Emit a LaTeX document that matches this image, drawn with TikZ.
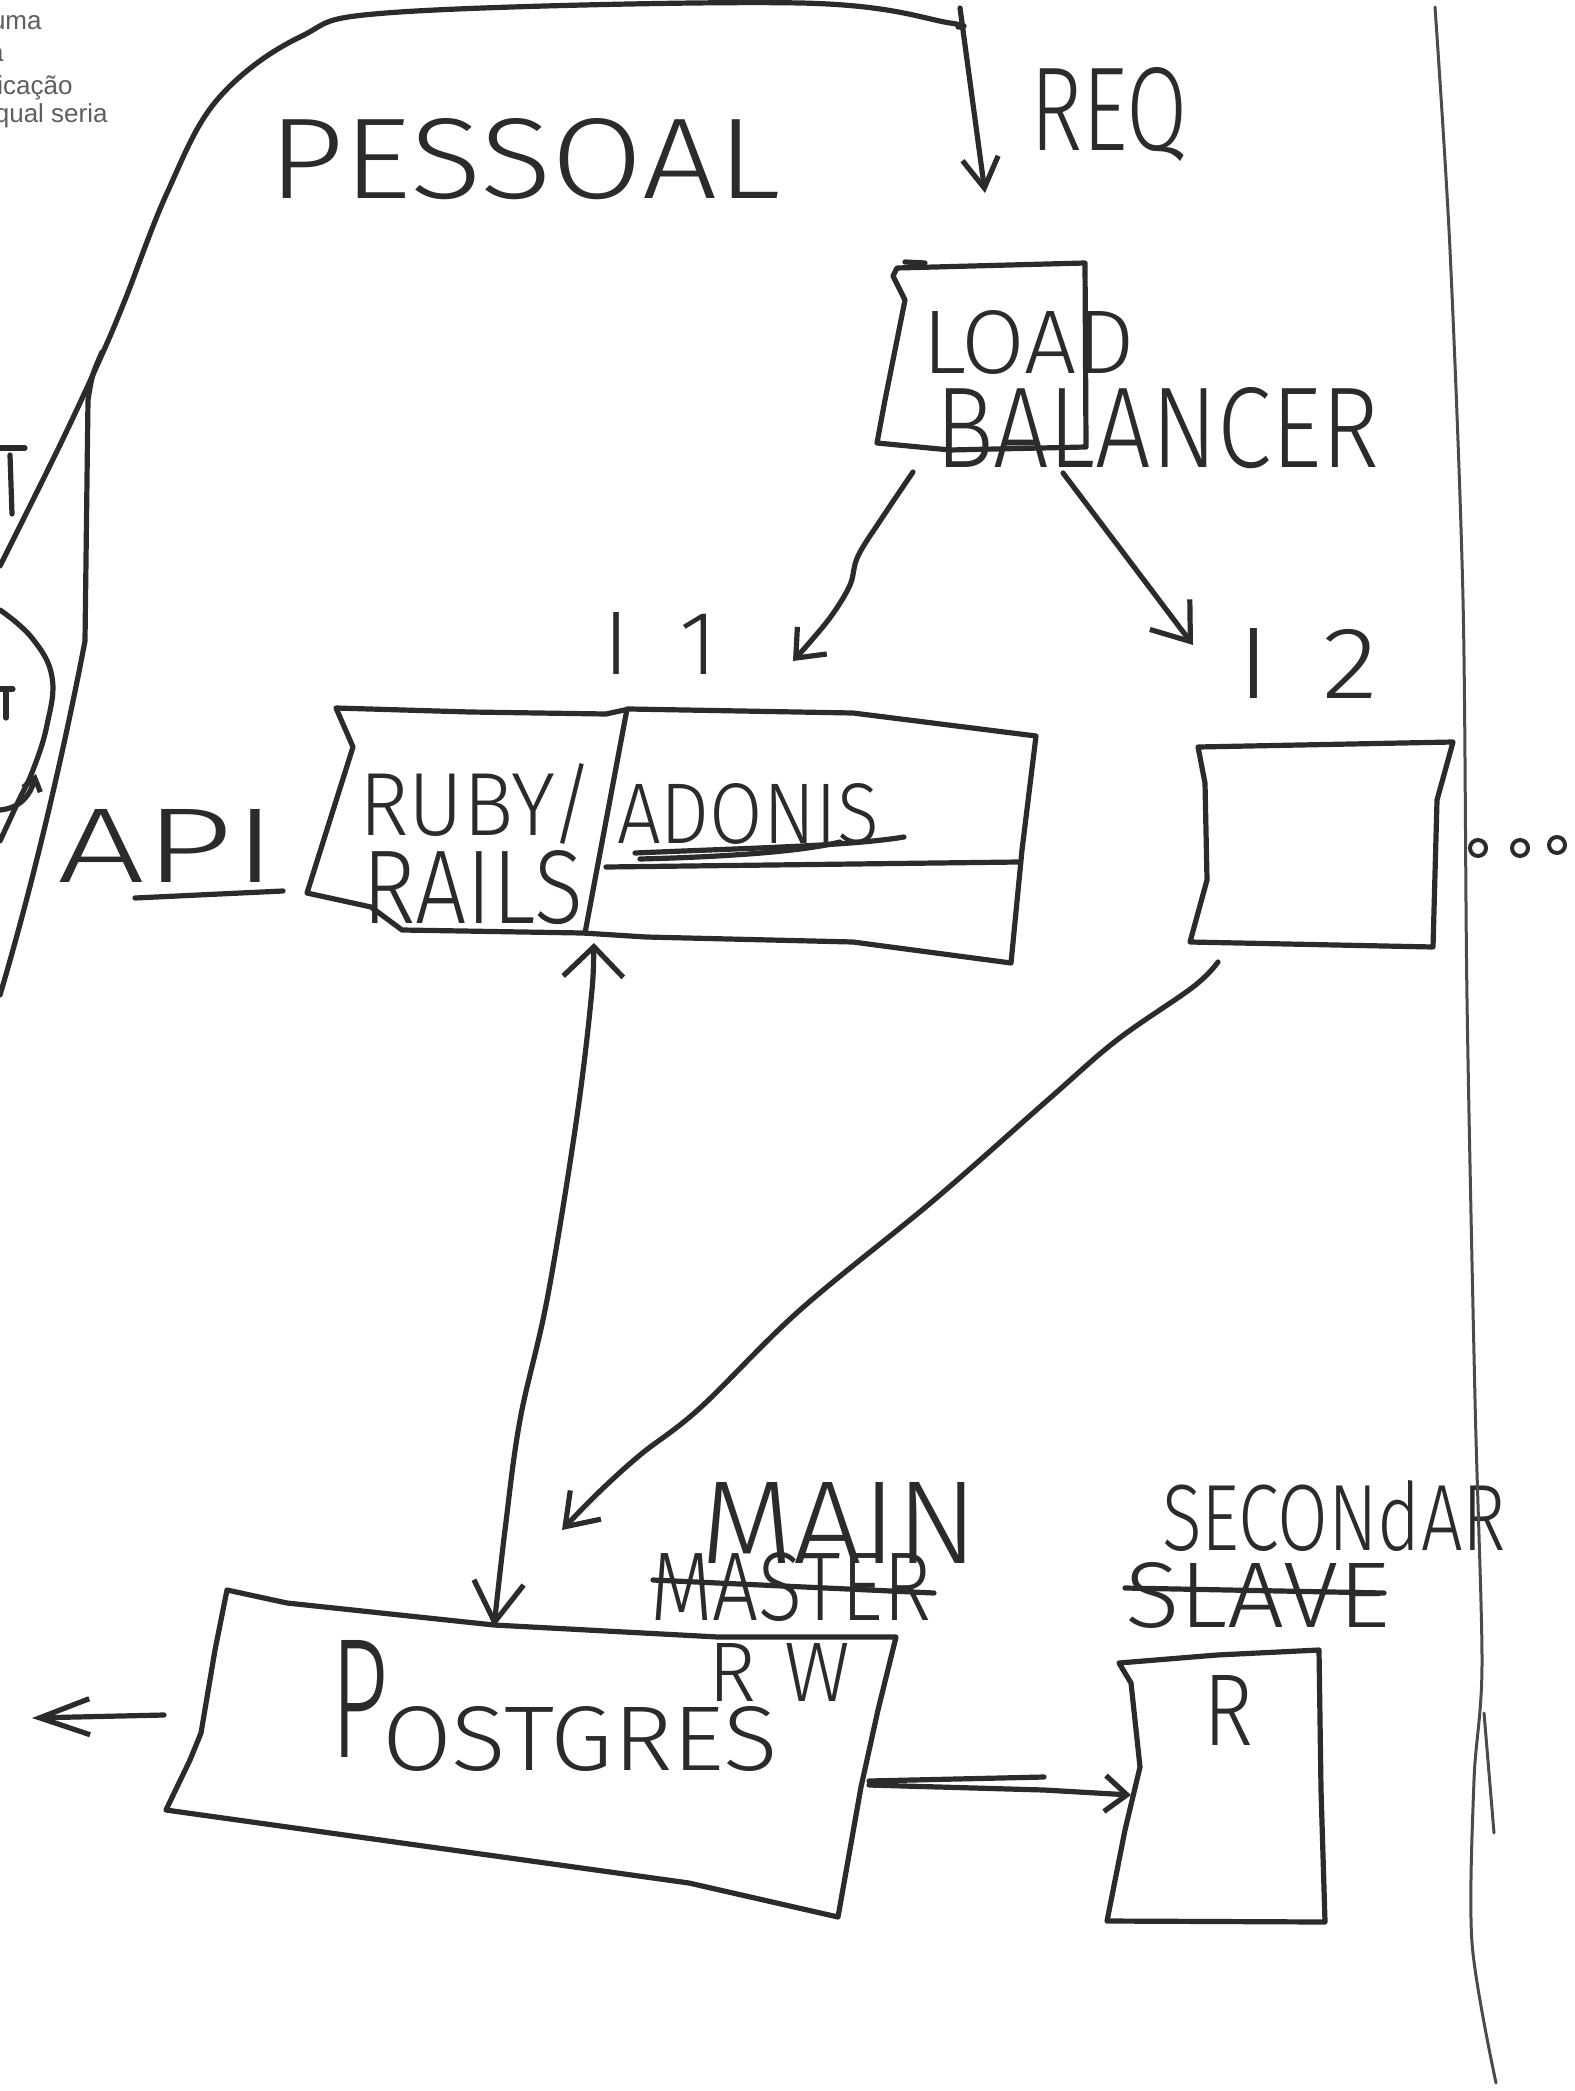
\documentclass[tikz,border=0pt]{standalone}
\usepackage{fontspec}
\usepackage{graphicx}
\setmainfont{Liberation Sans}
\IfFontExistsTF{Fira Sans Light}{\newfontfamily\handfont{Fira Sans Light}}{\newfontfamily\handfont{Liberation Sans}}
\usetikzlibrary{arrows.meta}
\newdimen\pxu \pxu=0.5pt
\newcommand{\fitxt}[3]{\resizebox{#1\pxu}{#2\pxu}{\handfont #3}}
\definecolor{inkc}{HTML}{2B2B2B}
\definecolor{notec}{HTML}{5E5E5E}
\tikzset{
  ink/.style={draw=inkc, line width=2.6pt, line cap=round, line join=round},
  thinink/.style={draw=inkc!85, line width=1.5pt, line cap=round},
  txt/.style={anchor=north west, inner sep=0pt, outer sep=0pt, text=inkc},
  note/.style={anchor=base east, inner sep=0pt, text=notec, font=\fontsize{13}{15}\selectfont},
  barb/.style n args={2}{-{Straight Barb[length=#1pt,width=#2pt]}}
}
\begin{document}
\begin{tikzpicture}[x=0.5pt,y=-0.5pt]
\useasboundingbox (0,0) rectangle (1574,2091);
\clip (0,0) rectangle (1574,2091);

% ---- cut-off note text (top left) ----
\node[note] (n1) at (42,30) {uma};
\node[note] (n2) at (4,62) {a};
\node[note] (n3) at (73,95) {icação};
\node[note] (n4) at (108,123) {qual seria};

% ---- partial drawings at the left edge ----
\draw[ink] (102,352) .. controls (92,375) .. (88,400) -- (85,641) .. controls (70,720) and (40,860) .. (0,995);
\draw[ink] (0,448) -- (25,448);
\draw[ink] (10,455) -- (12,514);
\draw[ink] plot[smooth, tension=0.7] coordinates {(0,610) (32,638) (52,677) (47,725) (33,770) (18,802) (0,841)};
\draw[ink] (0,689) -- (13,689);
\draw[ink] (6,690) -- (6,718);
\coordinate (pa1) at (0,810);
\coordinate (pa2) at (36,774);
\draw[ink, barb={6}{9}] (pa1) .. controls (20,808) and (30,796) .. (pa2);

% ---- big curve + REQ arrow ----
\coordinate (reqA) at (960,8);
\coordinate (reqB) at (985,193);
\draw[ink] plot[smooth, tension=0.6] coordinates {(0,566) (60,445) (100,359) (125,300) (167,193) (217,100) (300,37) (400,12) (800,3) (950,23) (958,27)};
\draw[ink, barb={15}{18}] (reqA) -- (reqB);
\node[txt] (req) at (1030,67) {\fitxt{158}{83}{REQ}};
\node[txt] (pessoal) at (268,118) {\fitxt{512}{80}{PESSOAL}};

% ---- load balancer ----
\draw[ink] (897,268) -- (1085,263) -- (1086,447) -- (950,450) -- (877,443) -- (885,400) -- (905,300) -- (893,276) -- cycle;
\draw[ink] (905,262) -- (925,263);
\node[txt] (load) at (922,310) {\fitxt{213}{63}{LOAD}};
\node[txt] (balancer) at (935,387) {\fitxt{445}{80}{BALANCER}};
\coordinate (lbL) at (913,472);
\coordinate (lbR) at (1063,473);
\coordinate (i1in) at (793,661);
\coordinate (i2in) at (1193,645);
\draw[ink, barb={12}{20}] plot[smooth, tension=0.6] coordinates {(lbL) (882,518) (858,556) (850,585) (832,615) (810,642) (i1in)};
\draw[ink, barb={17}{25}] (lbR) -- (i2in);

% ---- instance 1 ----
\node[txt] (i1) at (603,612) {\fitxt{115}{62}{I\hspace{0.55em}1}};
\draw[ink] (336,708) -- (470,712) -- (606,714) -- (629,709) -- (853,713) -- (1036,736) -- (1022,850) -- (1011,963) -- (853,942) -- (646,937) -- (583,933) -- (402,930) -- (371,907) -- (307,893) -- (353,747) -- cycle;
\draw[ink] (627,709) -- (585,933);
\draw[ink] (606,867) -- (1019,862);
\node[txt] (ruby) at (359,763) {\fitxt{235}{72}{RUBY/}};
\node[txt] (rails) at (362,850) {\fitxt{221}{73}{RAILS}};
\node[txt] (adonis) at (617,783) {\fitxt{262}{60}{ADONIS}};
\draw[ink] (635,853) .. controls (750,848) and (850,846) .. (904,837);
\draw[ink] (640,859) .. controls (720,857) and (800,852) .. (840,842);
\node[txt] (api) at (57,809) {\fitxt{220}{73}{API}};
\draw[ink] (135,898) -- (283,891);

% ---- instance 2 ----
\node[txt] (i2) at (1237,628) {\fitxt{141}{70}{I\hspace{0.45em}2}};
\draw[ink] (1198,747) -- (1453,742) -- (1437,800) -- (1433,947) -- (1190,942) -- (1207,880) -- (1205,783) -- cycle;
\draw[ink, line width=2pt] (1478,848) circle[radius=4pt];
\draw[ink, line width=2pt] (1520,848) circle[radius=4pt];
\draw[ink, line width=2pt] (1557,845) circle[radius=4pt];

% ---- postgres ----
\draw[ink] (227,1590) -- (287,1603) -- (494,1625) -- (718,1637) -- (896,1637) -- (878,1710) -- (861,1787) -- (838,1917) -- (689,1883) -- (402,1843) -- (166,1810) -- (190,1760) -- (201,1733) -- (215,1650) -- cycle;
\node[txt] (pgP) at (330,1640) {\fitxt{58}{117}{P}};
\node[txt] (pgrest) at (382,1706) {\fitxt{396}{64}{OSTGRES}};
\node[txt] (rw) at (708,1643) {\fitxt{142}{58}{R\hspace{0.35em}W}};
\node[txt] (main) at (700,1482) {\fitxt{278}{81}{MAIN}};
\node[txt] (master) at (650,1552) {\fitxt{281}{68}{MASTER}};
\draw[ink] (653,1580) -- (934,1593);

% ---- replica ----
\draw[ink] (1119,1663) -- (1217,1655) -- (1319,1650) -- (1321,1790) -- (1325,1922) -- (1107,1921) -- (1125,1830) -- (1140,1767) -- (1131,1683) -- cycle;
\node[txt] (rr) at (1203,1675) {\fitxt{50}{70}{R}};
\node[txt] (second) at (1162,1480) {\fitxt{344}{70}{SECONdAR}};
\node[txt] (slave) at (1125,1562) {\fitxt{265}{65}{SLAVE}};
\draw[ink] (1125,1588) -- (1384,1593);

% ---- connectors ----
\coordinate (i2out) at (1218,962);
\coordinate (pgin2) at (562,1530);
\draw[ink, barb={15}{21}] plot[smooth, tension=0.6] coordinates {(i2out) (1193,987) (1117,1040) (1050,1098) (934,1200) (800,1310) (700,1408) (640,1455) (597,1494) (pgin2)};
\coordinate (i1bot) at (594,943);
\coordinate (pgin1) at (494,1627);
\draw[ink, {Straight Barb[length=15pt,width=30pt]}-{Straight Barb[length=20pt,width=25pt]}] plot[smooth, tension=0.6] coordinates {(i1bot) (590,1010) (575,1130) (547,1300) (520,1420) (505,1530) (pgin1)};
\coordinate (pgL) at (164,1715);
\coordinate (outL) at (32,1718);
\draw[ink, barb={25}{18}] (pgL) -- (outL);
\coordinate (pgR) at (869,1785);
\coordinate (repL) at (1131,1795);
\draw[ink, barb={11}{18}] (pgR) -- (1044,1790) -- (repL);
\draw[ink] (869,1781) -- (1044,1777);

% ---- right border line ----
\draw[thinink] plot[smooth, tension=0.5] coordinates {(1435,7) (1450,250) (1463,600) (1467,1000) (1475,1400) (1482,1663) (1474,1780) (1472,1943) (1496,2083)};
\draw[thinink] (1484,1713) -- (1494,1833);
\end{tikzpicture}
\end{document}
